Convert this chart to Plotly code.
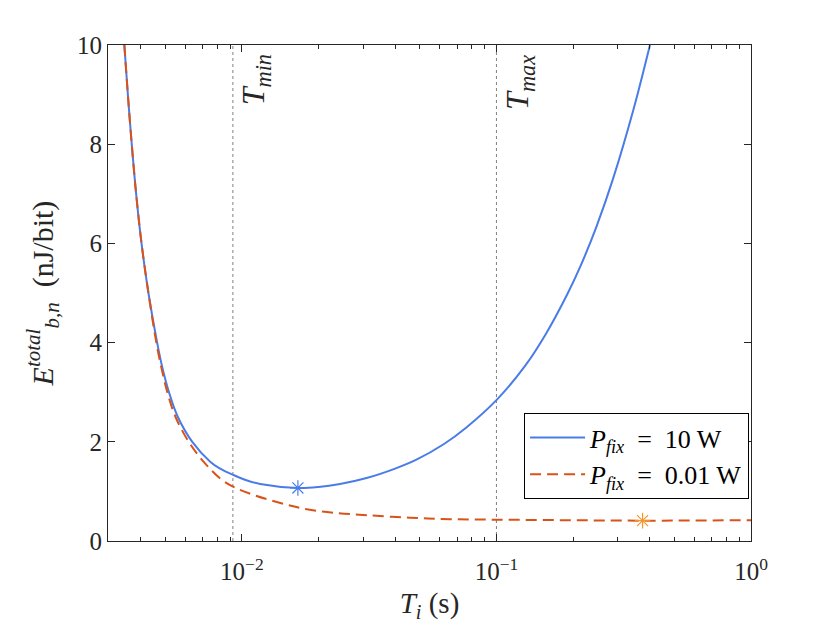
import numpy as np
import plotly.graph_objects as go

# values
t_high = [0.003454, 0.003566, 0.003693, 0.003843, 0.004035, 0.004295, 0.004647,
          0.004870, 0.005172, 0.005605, 0.006385, 0.007510, 0.008147, 0.00927,
          0.010491, 0.011797, 0.0166, 0.0200, 0.0243, 0.0309, 0.0400, 0.0485,
          0.0620, 0.0762, 0.100, 0.130, 0.157, 0.190, 0.213, 0.248, 0.287,
          0.345, 0.401]
e_high = [10.0, 9.0, 8.0, 7.0, 6.0, 5.0, 4.0,
          3.5, 3.0, 2.5, 2.0, 1.60, 1.47, 1.33,
          1.22, 1.15, 1.07, 1.09, 1.15, 1.27, 1.46, 1.64,
          1.95, 2.29, 2.84, 3.54, 4.19, 4.98, 5.52, 6.36, 7.30,
          8.69, 10.0]

t_low = [0.003454, 0.003566, 0.003693, 0.003843, 0.004035, 0.004295, 0.004613,
         0.004826, 0.005095, 0.005489, 0.006185, 0.007069, 0.008222, 0.00927,
         0.0111, 0.0150, 0.0180, 0.0229, 0.0309, 0.0457, 0.0656, 0.100, 0.188,
         0.375, 1.0]
e_low = [10.0, 9.0, 8.0, 7.0, 6.0, 5.0, 4.0,
         3.5, 3.0, 2.5, 2.0, 1.60, 1.26, 1.09,
         0.93, 0.73, 0.64, 0.57, 0.52, 0.47, 0.44, 0.43, 0.42,
         0.41, 0.42]

opt_high = (0.0166, 1.07)
opt_low = (0.375, 0.41)

T_MIN = 0.00922
T_MAX = 0.1

legend_names = ["<i>P</i><sub><i>fix</i></sub>&nbsp; = &nbsp;10 W",
                "<i>P</i><sub><i>fix</i></sub>&nbsp; = &nbsp;0.01 W"]
xtick_vals = [0.01, 0.1, 1]
xtick_text = ["10<sup>\u22122</sup>", "10<sup>\u22121</sup>", "10<sup>0</sup>"]
xminor_vals = [m * d for d in (0.001, 0.01, 0.1) for m in range(2, 10)]

BLUE = "#4a7ce8"
ORANGE = "#d95319"
STAR = "#f5962a"
AXIS = "#262626"
FONT = "Liberation Serif"

fig = go.Figure()

# threshold lines
for tv in (T_MIN, T_MAX):
    fig.add_trace(go.Scatter(x=[tv, tv], y=[0, 10], mode="lines",
                             line=dict(color="#808080", width=1, dash="dot"),
                             showlegend=False, hoverinfo="skip"))

fig.add_trace(go.Scatter(x=t_high, y=e_high, mode="lines", name=legend_names[0],
                         line=dict(color=BLUE, width=2, shape="spline", smoothing=1.0)))
fig.add_trace(go.Scatter(x=t_low, y=e_low, mode="lines", name=legend_names[1],
                         line=dict(color=ORANGE, width=2, dash="11px,6px",
                                   shape="spline", smoothing=1.0)))

for pt, col in ((opt_high, BLUE), (opt_low, STAR)):
    fig.add_trace(go.Scatter(x=[pt[0]], y=[pt[1]], mode="markers", showlegend=False,
                             marker=dict(symbol="asterisk-open", size=13, color=col,
                                         line=dict(color=col, width=1.2))))

for tv, lbl in ((T_MIN, "<i>T</i><sub><i>min</i></sub>"),
                (T_MAX, "<i>T</i><sub><i>max</i></sub>")):
    fig.add_annotation(x=np.log10(tv), y=9.85, xref="x", yref="y", text=lbl,
                       textangle=-90, showarrow=False, xanchor="left", yanchor="top",
                       xshift=1, font=dict(family=FONT, size=32, color=AXIS))

fig.update_xaxes(type="log", range=[np.log10(0.003) - 0.003, 0],
                 tickvals=xtick_vals, ticktext=xtick_text,
                 ticks="inside", ticklen=7, tickcolor=AXIS, tickwidth=1,
                 minor=dict(tickvals=xminor_vals, ticks="inside", ticklen=4,
                            tickcolor=AXIS, tickwidth=1),
                 showline=True, linecolor=AXIS, linewidth=1, mirror="ticks",
                 showgrid=False, zeroline=False, ticklabelstandoff=8,
                 automargin=False,
                 tickfont=dict(family=FONT, size=25, color=AXIS),
                 title=dict(text="<i>T</i><sub><i>i</i></sub> (s)", standoff=10,
                            font=dict(family=FONT, size=29, color=AXIS)))
fig.update_yaxes(range=[0, 10], tickvals=[0, 2, 4, 6, 8, 10],
                 ticks="inside", ticklen=7, tickcolor=AXIS, tickwidth=1,
                 showline=True, linecolor=AXIS, linewidth=1, mirror="ticks",
                 showgrid=False, zeroline=False, automargin=False,
                 tickfont=dict(family=FONT, size=25, color=AXIS),
                 title=dict(text="<i>E</i><sup><i>total</i></sup><sub><i>b,n</i></sub>  (nJ/bit)",
                            standoff=14, font=dict(family=FONT, size=30, color=AXIS)))

fig.update_layout(
    width=830, height=623,
    margin=dict(l=108, r=79, t=45, b=82),
    plot_bgcolor="white", paper_bgcolor="white",
    font=dict(family=FONT, color=AXIS),
    legend=dict(x=0.997, y=0.258, xanchor="right", yanchor="top",
                bgcolor="white", bordercolor="#000000", borderwidth=1,
                font=dict(family=FONT, size=26, color="#000000"),
                tracegroupgap=0, itemwidth=55),
)

fig.write_html("out.html", config={"displayModeBar": False},
               post_script="document.body.style.margin='0';")
